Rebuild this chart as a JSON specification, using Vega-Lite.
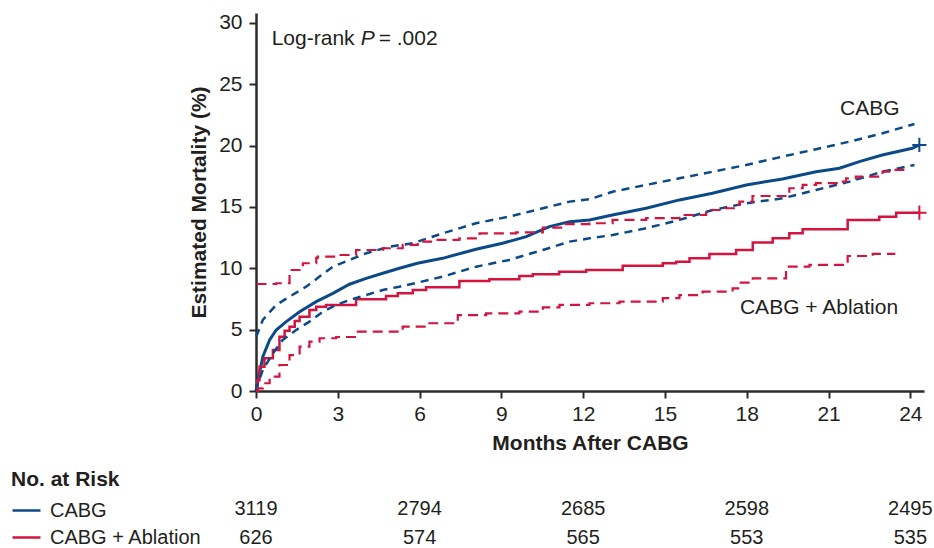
{
  "$schema": "https://vega.github.io/schema/vega-lite/v6.json",
  "width": 668,
  "height": 378,
  "autosize": {"type": "none"},
  "padding": {"left": 256, "top": 13, "right": 10, "bottom": 157},
  "background": "white",
  "config": {
    "font": "Liberation Sans",
    "view": {"stroke": null},
    "axis": {"grid": false, "labelFontSize": 21, "titleFontSize": 21, "titleFontWeight": "bold", "labelColor": "#231f20", "titleColor": "#231f20", "domainColor": "#2b2b2b", "tickColor": "#2b2b2b", "domainWidth": 2.5, "tickWidth": 2, "tickSize": 7}
  },
  "datasets": {
    "km": [
      {"g": "CABG", "s": "est", "m": 0, "v": 0},
      {"g": "CABG", "s": "est", "m": 0.03, "v": 0.35},
      {"g": "CABG", "s": "est", "m": 0.25, "v": 2.8},
      {"g": "CABG", "s": "est", "m": 0.5, "v": 4.16},
      {"g": "CABG", "s": "est", "m": 0.74, "v": 4.97},
      {"g": "CABG", "s": "est", "m": 1.11, "v": 5.65},
      {"g": "CABG", "s": "est", "m": 1.6, "v": 6.46},
      {"g": "CABG", "s": "est", "m": 2.21, "v": 7.28},
      {"g": "CABG", "s": "est", "m": 2.82, "v": 7.96},
      {"g": "CABG", "s": "est", "m": 3.43, "v": 8.7},
      {"g": "CABG", "s": "est", "m": 4.04, "v": 9.18},
      {"g": "CABG", "s": "est", "m": 4.65, "v": 9.59},
      {"g": "CABG", "s": "est", "m": 5.26, "v": 10.0},
      {"g": "CABG", "s": "est", "m": 5.92, "v": 10.41},
      {"g": "CABG", "s": "est", "m": 6.84, "v": 10.81},
      {"g": "CABG", "s": "est", "m": 8.07, "v": 11.55},
      {"g": "CABG", "s": "est", "m": 9.04, "v": 12.04},
      {"g": "CABG", "s": "est", "m": 9.91, "v": 12.58},
      {"g": "CABG", "s": "est", "m": 10.76, "v": 13.39},
      {"g": "CABG", "s": "est", "m": 11.5, "v": 13.8},
      {"g": "CABG", "s": "est", "m": 12.23, "v": 13.94},
      {"g": "CABG", "s": "est", "m": 13.07, "v": 14.34},
      {"g": "CABG", "s": "est", "m": 14.31, "v": 14.89},
      {"g": "CABG", "s": "est", "m": 15.53, "v": 15.57},
      {"g": "CABG", "s": "est", "m": 16.74, "v": 16.11},
      {"g": "CABG", "s": "est", "m": 17.98, "v": 16.79},
      {"g": "CABG", "s": "est", "m": 19.31, "v": 17.28},
      {"g": "CABG", "s": "est", "m": 20.54, "v": 17.87},
      {"g": "CABG", "s": "est", "m": 21.4, "v": 18.15},
      {"g": "CABG", "s": "est", "m": 22.13, "v": 18.69},
      {"g": "CABG", "s": "est", "m": 22.97, "v": 19.23},
      {"g": "CABG", "s": "est", "m": 24.07, "v": 19.78},
      {"g": "CABG", "s": "est", "m": 24.33, "v": 20.05},

      {"g": "CABG", "s": "hi", "m": 0.01, "v": 4.43},
      {"g": "CABG", "s": "hi", "m": 0.25, "v": 5.79},
      {"g": "CABG", "s": "hi", "m": 0.74, "v": 7.01},
      {"g": "CABG", "s": "hi", "m": 1.23, "v": 7.69},
      {"g": "CABG", "s": "hi", "m": 1.84, "v": 8.5},
      {"g": "CABG", "s": "hi", "m": 2.33, "v": 9.32},
      {"g": "CABG", "s": "hi", "m": 2.82, "v": 10.13},
      {"g": "CABG", "s": "hi", "m": 3.43, "v": 10.68},
      {"g": "CABG", "s": "hi", "m": 4.04, "v": 11.22},
      {"g": "CABG", "s": "hi", "m": 4.9, "v": 11.76},
      {"g": "CABG", "s": "hi", "m": 5.75, "v": 12.04},
      {"g": "CABG", "s": "hi", "m": 6.85, "v": 12.85},
      {"g": "CABG", "s": "hi", "m": 8.07, "v": 13.67},
      {"g": "CABG", "s": "hi", "m": 9.29, "v": 14.21},
      {"g": "CABG", "s": "hi", "m": 10.52, "v": 14.89},
      {"g": "CABG", "s": "hi", "m": 11.5, "v": 15.43},
      {"g": "CABG", "s": "hi", "m": 12.23, "v": 15.62},
      {"g": "CABG", "s": "hi", "m": 13.08, "v": 16.24},
      {"g": "CABG", "s": "hi", "m": 14.31, "v": 16.79},
      {"g": "CABG", "s": "hi", "m": 15.53, "v": 17.33},
      {"g": "CABG", "s": "hi", "m": 16.75, "v": 17.87},
      {"g": "CABG", "s": "hi", "m": 17.98, "v": 18.42},
      {"g": "CABG", "s": "hi", "m": 19.31, "v": 19.1},
      {"g": "CABG", "s": "hi", "m": 20.54, "v": 19.7},
      {"g": "CABG", "s": "hi", "m": 21.77, "v": 20.32},
      {"g": "CABG", "s": "hi", "m": 22.98, "v": 21.0},
      {"g": "CABG", "s": "hi", "m": 24.15, "v": 21.76},

      {"g": "CABG", "s": "lo", "m": 0, "v": 0},
      {"g": "CABG", "s": "lo", "m": 0.03, "v": 0.35},
      {"g": "CABG", "s": "lo", "m": 0.25, "v": 1.71},
      {"g": "CABG", "s": "lo", "m": 0.62, "v": 3.07},
      {"g": "CABG", "s": "lo", "m": 0.98, "v": 4.16},
      {"g": "CABG", "s": "lo", "m": 1.47, "v": 4.97},
      {"g": "CABG", "s": "lo", "m": 1.96, "v": 5.65},
      {"g": "CABG", "s": "lo", "m": 2.45, "v": 6.46},
      {"g": "CABG", "s": "lo", "m": 2.94, "v": 7.01},
      {"g": "CABG", "s": "lo", "m": 3.43, "v": 7.42},
      {"g": "CABG", "s": "lo", "m": 4.04, "v": 7.82},
      {"g": "CABG", "s": "lo", "m": 4.65, "v": 8.23},
      {"g": "CABG", "s": "lo", "m": 5.26, "v": 8.5},
      {"g": "CABG", "s": "lo", "m": 5.93, "v": 8.83},
      {"g": "CABG", "s": "lo", "m": 6.85, "v": 9.32},
      {"g": "CABG", "s": "lo", "m": 8.07, "v": 10.13},
      {"g": "CABG", "s": "lo", "m": 9.29, "v": 10.68},
      {"g": "CABG", "s": "lo", "m": 10.52, "v": 11.49},
      {"g": "CABG", "s": "lo", "m": 11.5, "v": 12.17},
      {"g": "CABG", "s": "lo", "m": 12.23, "v": 12.44},
      {"g": "CABG", "s": "lo", "m": 13.08, "v": 12.71},
      {"g": "CABG", "s": "lo", "m": 14.31, "v": 13.26},
      {"g": "CABG", "s": "lo", "m": 15.53, "v": 13.94},
      {"g": "CABG", "s": "lo", "m": 16.75, "v": 14.75},
      {"g": "CABG", "s": "lo", "m": 17.98, "v": 15.3},
      {"g": "CABG", "s": "lo", "m": 19.32, "v": 15.7},
      {"g": "CABG", "s": "lo", "m": 20.54, "v": 16.38},
      {"g": "CABG", "s": "lo", "m": 21.77, "v": 17.06},
      {"g": "CABG", "s": "lo", "m": 22.98, "v": 17.87},
      {"g": "CABG", "s": "lo", "m": 24.15, "v": 18.42},

      {"g": "CABG + Ablation", "s": "est", "m": 0, "v": 0},
      {"g": "CABG + Ablation", "s": "est", "m": 0.05, "v": 0.9},
      {"g": "CABG + Ablation", "s": "est", "m": 0.13, "v": 1.98},
      {"g": "CABG + Ablation", "s": "est", "m": 0.31, "v": 2.67},
      {"g": "CABG + Ablation", "s": "est", "m": 0.62, "v": 3.34},
      {"g": "CABG + Ablation", "s": "est", "m": 0.86, "v": 4.43},
      {"g": "CABG + Ablation", "s": "est", "m": 1.05, "v": 4.9},
      {"g": "CABG + Ablation", "s": "est", "m": 1.23, "v": 5.24},
      {"g": "CABG + Ablation", "s": "est", "m": 1.42, "v": 5.7},
      {"g": "CABG + Ablation", "s": "est", "m": 1.6, "v": 6.06},
      {"g": "CABG + Ablation", "s": "est", "m": 1.96, "v": 6.6},
      {"g": "CABG + Ablation", "s": "est", "m": 2.21, "v": 6.87},
      {"g": "CABG + Ablation", "s": "est", "m": 2.57, "v": 7.01},
      {"g": "CABG + Ablation", "s": "est", "m": 3.67, "v": 7.47},
      {"g": "CABG + Ablation", "s": "est", "m": 4.77, "v": 7.74},
      {"g": "CABG + Ablation", "s": "est", "m": 5.2, "v": 7.96},
      {"g": "CABG + Ablation", "s": "est", "m": 5.75, "v": 8.23},
      {"g": "CABG + Ablation", "s": "est", "m": 6.24, "v": 8.45},
      {"g": "CABG + Ablation", "s": "est", "m": 7.46, "v": 8.96},
      {"g": "CABG + Ablation", "s": "est", "m": 8.56, "v": 9.1},
      {"g": "CABG + Ablation", "s": "est", "m": 9.66, "v": 9.37},
      {"g": "CABG + Ablation", "s": "est", "m": 10.15, "v": 9.51},
      {"g": "CABG + Ablation", "s": "est", "m": 11.12, "v": 9.72},
      {"g": "CABG + Ablation", "s": "est", "m": 12.11, "v": 9.86},
      {"g": "CABG + Ablation", "s": "est", "m": 13.45, "v": 10.21},
      {"g": "CABG + Ablation", "s": "est", "m": 14.92, "v": 10.41},
      {"g": "CABG + Ablation", "s": "est", "m": 15.41, "v": 10.54},
      {"g": "CABG + Ablation", "s": "est", "m": 15.9, "v": 10.82},
      {"g": "CABG + Ablation", "s": "est", "m": 16.63, "v": 11.17},
      {"g": "CABG + Ablation", "s": "est", "m": 17.61, "v": 11.49},
      {"g": "CABG + Ablation", "s": "est", "m": 18.22, "v": 12.09},
      {"g": "CABG + Ablation", "s": "est", "m": 18.95, "v": 12.44},
      {"g": "CABG + Ablation", "s": "est", "m": 19.56, "v": 12.85},
      {"g": "CABG + Ablation", "s": "est", "m": 20.05, "v": 13.18},
      {"g": "CABG + Ablation", "s": "est", "m": 21.7, "v": 13.94},
      {"g": "CABG + Ablation", "s": "est", "m": 22.86, "v": 14.2},
      {"g": "CABG + Ablation", "s": "est", "m": 23.48, "v": 14.53},
      {"g": "CABG + Ablation", "s": "est", "m": 24.33, "v": 14.53},

      {"g": "CABG + Ablation", "s": "hi", "m": 0.02, "v": 8.72},
      {"g": "CABG + Ablation", "s": "hi", "m": 0.74, "v": 8.78},
      {"g": "CABG + Ablation", "s": "hi", "m": 1.23, "v": 9.86},
      {"g": "CABG + Ablation", "s": "hi", "m": 1.72, "v": 10.41},
      {"g": "CABG + Ablation", "s": "hi", "m": 2.21, "v": 10.84},
      {"g": "CABG + Ablation", "s": "hi", "m": 2.26, "v": 10.95},
      {"g": "CABG + Ablation", "s": "hi", "m": 3.06, "v": 11.08},
      {"g": "CABG + Ablation", "s": "hi", "m": 3.67, "v": 11.49},
      {"g": "CABG + Ablation", "s": "hi", "m": 4.65, "v": 11.63},
      {"g": "CABG + Ablation", "s": "hi", "m": 5.38, "v": 11.9},
      {"g": "CABG + Ablation", "s": "hi", "m": 5.93, "v": 12.17},
      {"g": "CABG + Ablation", "s": "hi", "m": 6.61, "v": 12.31},
      {"g": "CABG + Ablation", "s": "hi", "m": 7.46, "v": 12.44},
      {"g": "CABG + Ablation", "s": "hi", "m": 8.2, "v": 12.85},
      {"g": "CABG + Ablation", "s": "hi", "m": 9.54, "v": 12.93},
      {"g": "CABG + Ablation", "s": "hi", "m": 10.52, "v": 13.31},
      {"g": "CABG + Ablation", "s": "hi", "m": 11.25, "v": 13.59},
      {"g": "CABG + Ablation", "s": "hi", "m": 12.23, "v": 13.67},
      {"g": "CABG + Ablation", "s": "hi", "m": 13.08, "v": 13.94},
      {"g": "CABG + Ablation", "s": "hi", "m": 14.31, "v": 14.08},
      {"g": "CABG + Ablation", "s": "hi", "m": 15.53, "v": 14.34},
      {"g": "CABG + Ablation", "s": "hi", "m": 16.51, "v": 14.75},
      {"g": "CABG + Ablation", "s": "hi", "m": 17.0, "v": 14.89},
      {"g": "CABG + Ablation", "s": "hi", "m": 17.61, "v": 15.16},
      {"g": "CABG + Ablation", "s": "hi", "m": 17.73, "v": 15.43},
      {"g": "CABG + Ablation", "s": "hi", "m": 18.21, "v": 15.89},
      {"g": "CABG + Ablation", "s": "hi", "m": 19.56, "v": 16.52},
      {"g": "CABG + Ablation", "s": "hi", "m": 20.05, "v": 16.79},
      {"g": "CABG + Ablation", "s": "hi", "m": 20.54, "v": 16.93},
      {"g": "CABG + Ablation", "s": "hi", "m": 21.52, "v": 17.06},
      {"g": "CABG + Ablation", "s": "hi", "m": 21.64, "v": 17.33},
      {"g": "CABG + Ablation", "s": "hi", "m": 22.0, "v": 17.47},
      {"g": "CABG + Ablation", "s": "hi", "m": 22.98, "v": 17.87},
      {"g": "CABG + Ablation", "s": "hi", "m": 23.35, "v": 18.01},
      {"g": "CABG + Ablation", "s": "hi", "m": 23.78, "v": 18.01},

      {"g": "CABG + Ablation", "s": "lo", "m": 0, "v": 0},
      {"g": "CABG + Ablation", "s": "lo", "m": 0.07, "v": 0.22},
      {"g": "CABG + Ablation", "s": "lo", "m": 0.25, "v": 0.63},
      {"g": "CABG + Ablation", "s": "lo", "m": 0.5, "v": 1.17},
      {"g": "CABG + Ablation", "s": "lo", "m": 0.86, "v": 2.12},
      {"g": "CABG + Ablation", "s": "lo", "m": 1.23, "v": 2.93},
      {"g": "CABG + Ablation", "s": "lo", "m": 1.6, "v": 3.61},
      {"g": "CABG + Ablation", "s": "lo", "m": 1.96, "v": 4.02},
      {"g": "CABG + Ablation", "s": "lo", "m": 2.33, "v": 4.3},
      {"g": "CABG + Ablation", "s": "lo", "m": 2.94, "v": 4.4},
      {"g": "CABG + Ablation", "s": "lo", "m": 3.67, "v": 4.83},
      {"g": "CABG + Ablation", "s": "lo", "m": 4.53, "v": 4.83},
      {"g": "CABG + Ablation", "s": "lo", "m": 5.38, "v": 5.24},
      {"g": "CABG + Ablation", "s": "lo", "m": 6.24, "v": 5.52},
      {"g": "CABG + Ablation", "s": "lo", "m": 7.4, "v": 6.19},
      {"g": "CABG + Ablation", "s": "lo", "m": 8.44, "v": 6.33},
      {"g": "CABG + Ablation", "s": "lo", "m": 9.66, "v": 6.46},
      {"g": "CABG + Ablation", "s": "lo", "m": 10.52, "v": 6.82},
      {"g": "CABG + Ablation", "s": "lo", "m": 11.13, "v": 7.01},
      {"g": "CABG + Ablation", "s": "lo", "m": 12.23, "v": 7.15},
      {"g": "CABG + Ablation", "s": "lo", "m": 13.33, "v": 7.28},
      {"g": "CABG + Ablation", "s": "lo", "m": 14.92, "v": 7.56},
      {"g": "CABG + Ablation", "s": "lo", "m": 15.53, "v": 7.82},
      {"g": "CABG + Ablation", "s": "lo", "m": 16.38, "v": 8.09},
      {"g": "CABG + Ablation", "s": "lo", "m": 17.48, "v": 8.37},
      {"g": "CABG + Ablation", "s": "lo", "m": 17.73, "v": 8.83},
      {"g": "CABG + Ablation", "s": "lo", "m": 18.22, "v": 9.18},
      {"g": "CABG + Ablation", "s": "lo", "m": 19.44, "v": 10.13},
      {"g": "CABG + Ablation", "s": "lo", "m": 20.3, "v": 10.27},
      {"g": "CABG + Ablation", "s": "lo", "m": 21.7, "v": 11.0},
      {"g": "CABG + Ablation", "s": "lo", "m": 22.62, "v": 11.17},
      {"g": "CABG + Ablation", "s": "lo", "m": 23.41, "v": 11.27}
    ],
    "risk": [
      {"g": "CABG", "m": 0, "n": "3119"},
      {"g": "CABG", "m": 6, "n": "2794"},
      {"g": "CABG", "m": 12, "n": "2685"},
      {"g": "CABG", "m": 18, "n": "2598"},
      {"g": "CABG", "m": 24, "n": "2495"},
      {"g": "CABG + Ablation", "m": 0, "n": "626"},
      {"g": "CABG + Ablation", "m": 6, "n": "574"},
      {"g": "CABG + Ablation", "m": 12, "n": "565"},
      {"g": "CABG + Ablation", "m": 18, "n": "553"},
      {"g": "CABG + Ablation", "m": 24, "n": "535"}
    ]
  },
  "layer": [
    {
      "layer": [
        {
          "data": {"name": "km"},
          "transform": [{"filter": "datum.g == 'CABG' && datum.s == 'est'"}],
          "mark": {"type": "line", "interpolate": "linear", "strokeWidth": 3},
          "encoding": {
            "x": {"field": "m", "type": "quantitative", "scale": {"domain": [0, 24.5], "nice": false},
              "axis": {"values": [0, 3, 6, 9, 12, 15, 18, 21, 24], "title": "Months After CABG", "labelPadding": 5, "titlePadding": 8, "labelFlush": false}},
            "y": {"field": "v", "type": "quantitative", "scale": {"domain": [0, 30.8], "nice": false},
              "axis": {"values": [0, 5, 10, 15, 20, 25, 30], "title": "Estimated Mortality (%)", "labelPadding": 7, "titlePadding": 9, "labelFlush": false}},
            "color": {"field": "g", "type": "nominal",
              "scale": {"domain": ["CABG", "CABG + Ablation"], "range": ["#0b4a87", "#d2143f"]},
              "legend": {"orient": "none", "legendX": -245, "legendY": 456, "title": "No. at Risk", "titleFontSize": 21, "titleFontWeight": "bold", "titleColor": "#231f20", "titlePadding": 5, "labelFontSize": 20, "labelColor": "#231f20", "symbolType": "stroke", "symbolSize": 784, "symbolStrokeWidth": 2.5, "symbolDash": [1, 0], "labelOffset": 8, "rowPadding": 1}}
          }
        },
        {
          "data": {"name": "km"},
          "transform": [{"filter": "datum.g == 'CABG + Ablation' && datum.s == 'est'"}],
          "mark": {"type": "line", "interpolate": "step-after", "strokeWidth": 2.5},
          "encoding": {
            "x": {"field": "m", "type": "quantitative"},
            "y": {"field": "v", "type": "quantitative"},
            "color": {"field": "g", "type": "nominal"}
          }
        },
        {
          "data": {"name": "km"},
          "transform": [{"filter": "datum.g == 'CABG' && datum.s != 'est'"}],
          "mark": {"type": "line", "interpolate": "linear", "strokeWidth": 2.5, "strokeDash": [8, 6]},
          "encoding": {
            "x": {"field": "m", "type": "quantitative"},
            "y": {"field": "v", "type": "quantitative"},
            "color": {"field": "g", "type": "nominal"},
            "detail": {"field": "s"}
          }
        },
        {
          "data": {"name": "km"},
          "transform": [{"filter": "datum.g == 'CABG + Ablation' && datum.s != 'est'"}],
          "mark": {"type": "line", "interpolate": "step-after", "strokeWidth": 2.2, "strokeDash": [10, 6]},
          "encoding": {
            "x": {"field": "m", "type": "quantitative"},
            "y": {"field": "v", "type": "quantitative"},
            "color": {"field": "g", "type": "nominal"},
            "detail": {"field": "s"}
          }
        },
        {
          "data": {"name": "km"},
          "transform": [
            {"filter": "datum.s == 'est'"},
            {"joinaggregate": [{"op": "max", "field": "m", "as": "mx"}], "groupby": ["g"]},
            {"filter": "datum.m == datum.mx"}
          ],
          "mark": {"type": "point", "shape": "M-1,0H1M0,-1V1", "filled": false, "size": 200, "strokeWidth": 2, "opacity": 1},
          "encoding": {
            "x": {"field": "m", "type": "quantitative"},
            "y": {"field": "v", "type": "quantitative"},
            "color": {"field": "g", "type": "nominal"}
          }
        },
        {
          "data": {"values": [{}]},
          "mark": {"type": "text", "text": "Log-rank", "fontSize": 21, "align": "left", "baseline": "alphabetic", "color": "#231f20"},
          "encoding": {"x": {"datum": 0.575}, "y": {"datum": 28.2}}
        },
        {
          "data": {"values": [{}]},
          "mark": {"type": "text", "text": "P", "fontSize": 21, "fontStyle": "italic", "align": "left", "baseline": "alphabetic", "dx": 89, "color": "#231f20"},
          "encoding": {"x": {"datum": 0.575}, "y": {"datum": 28.2}}
        },
        {
          "data": {"values": [{}]},
          "mark": {"type": "text", "text": "= .002", "fontSize": 21, "align": "left", "baseline": "alphabetic", "dx": 107, "color": "#231f20"},
          "encoding": {"x": {"datum": 0.575}, "y": {"datum": 28.2}}
        },
        {
          "data": {"values": [{}]},
          "mark": {"type": "text", "text": "CABG", "fontSize": 21, "align": "left", "baseline": "alphabetic", "color": "#231f20"},
          "encoding": {"x": {"datum": 21.42}, "y": {"datum": 22.45}}
        },
        {
          "data": {"values": [{}]},
          "mark": {"type": "text", "text": "CABG + Ablation", "fontSize": 21, "align": "left", "baseline": "alphabetic", "color": "#231f20"},
          "encoding": {"x": {"datum": 17.75}, "y": {"datum": 6.28}}
        }
      ]
    },
    {
      "data": {"name": "risk"},
      "mark": {"type": "text", "fontSize": 20, "color": "#231f20", "baseline": "middle", "align": "center"},
      "encoding": {
        "x": {"field": "m", "type": "quantitative"},
        "y": {"field": "g", "type": "nominal", "scale": {"type": "point", "domain": ["CABG", "CABG + Ablation"], "range": [496, 525], "padding": 0}, "axis": null},
        "text": {"field": "n"}
      }
    }
  ],
  "resolve": {"scale": {"y": "independent"}}
}
